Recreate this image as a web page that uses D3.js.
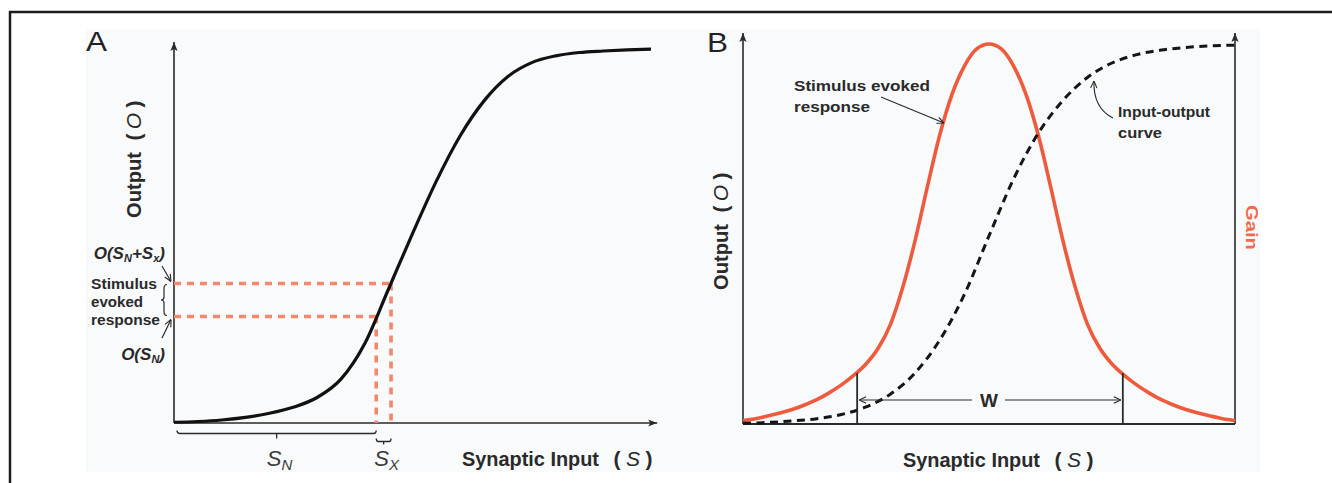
<!DOCTYPE html>
<html>
<head>
<meta charset="utf-8">
<script src="https://cdn.jsdelivr.net/npm/d3@7"></script>
<style>
  html, body { margin: 0; padding: 0; background: #ffffff; }
  svg { display: block; }
</style>
</head>
<body>
<svg id="fig" width="1332" height="483"></svg>
<script>
// ---------- Panel A: input-output (sigmoid) curve ----------
const inputA  = [0, 0.5, 1, 1.5, 2, 2.5, 3, 3.5, 4, 4.5, 5, 5.5, 6, 6.5, 7, 7.5, 8, 8.5, 9, 9.5, 10];
const outputA = [0.002, 0.004, 0.008, 0.015, 0.026, 0.042, 0.068, 0.117, 0.212, 0.358, 0.505,
                 0.645, 0.766, 0.859, 0.924, 0.961, 0.979, 0.988, 0.992, 0.995, 0.997];
// S_N and S_N + S_X on the input axis, and the outputs they produce
const markerInputs  = [4.24, 4.55];
const markerOutputs = [0.284, 0.372];

// ---------- Panel B: gain curve and input-output curve ----------
const inputB = [0, 0.25, 0.5, 0.75, 1, 1.25, 1.5, 1.75, 2, 2.25, 2.5, 2.75, 3, 3.25, 3.5, 3.75, 4, 4.25, 4.5, 4.75,
                5, 5.25, 5.5, 5.75, 6, 6.25, 6.5, 6.75, 7, 7.25, 7.5, 7.75, 8, 8.25, 8.5, 8.75, 9, 9.25, 9.5, 9.75, 10];
const gainB  = [0.009, 0.014, 0.021, 0.029, 0.038, 0.050, 0.064, 0.082, 0.103, 0.128, 0.158, 0.200, 0.263, 0.361,
                0.484, 0.626, 0.761, 0.868, 0.942, 0.987, 1.000,
                0.987, 0.942, 0.868, 0.761, 0.626, 0.484, 0.361, 0.263, 0.200, 0.158, 0.128, 0.103, 0.082, 0.064,
                0.050, 0.038, 0.029, 0.021, 0.014, 0.009];
const ioInputB  = [0, 0.5, 1, 1.5, 2, 2.5, 3, 3.5, 4, 4.5, 5, 5.5, 6, 6.5, 7, 7.5, 8, 8.5, 9, 9.5, 10];
const ioOutputB = [0.002, 0.004, 0.008, 0.014, 0.025, 0.045, 0.079, 0.135, 0.221, 0.341, 0.495,
                   0.645, 0.765, 0.851, 0.912, 0.950, 0.972, 0.984, 0.991, 0.995, 0.997];
// Edges of the width W of the gain curve
const widthEdges  = [2.32, 7.72];
const widthLevels = [0.134, 0.134];

const INK = "#2a2a2a";
const RED = "#ee5b3c";
const RED_SOFT = "#f5876d";
const FONT = "'Liberation Sans Narrow', 'Arial Narrow', 'Liberation Sans', Arial, sans-serif";

const svg = d3.select("#fig");

// Figure frame and panel background
svg.append("rect").attr("x", 86).attr("y", 29).attr("width", 1174).attr("height", 443).attr("fill", "#f9fafc");
svg.append("path").attr("d", "M10,483 V12 H1332").attr("fill", "none").attr("stroke", "#1c1c1c").attr("stroke-width", 2.5);

// Arrowheads
const defs = svg.append("defs");
defs.append("marker").attr("id", "axisHead").attr("markerUnits", "userSpaceOnUse")
  .attr("viewBox", "-10 -5 10 10").attr("refX", 0).attr("refY", 0)
  .attr("markerWidth", 10).attr("markerHeight", 10).attr("orient", "auto")
  .append("path").attr("d", "M0,0 L-9,-3.6 L-7,0 L-9,3.6 Z").attr("fill", INK);
defs.append("marker").attr("id", "thinHead").attr("markerUnits", "userSpaceOnUse")
  .attr("viewBox", "-10 -5 10 10").attr("refX", 0).attr("refY", 0)
  .attr("markerWidth", 10).attr("markerHeight", 10).attr("orient", "auto")
  .append("path").attr("d", "M-7,-3.2 L0,0 L-7,3.2").attr("fill", "none").attr("stroke", INK).attr("stroke-width", 1.1);

function label(g, txt, x, y, opts = {}) {
  const t = g.append("text").attr("x", x).attr("y", y)
    .attr("font-family", FONT).attr("font-weight", opts.weight || "bold")
    .attr("font-size", opts.size || 15).attr("fill", opts.fill || INK)
    .attr("text-anchor", opts.anchor || "start").text(txt);
  if (opts.style) t.attr("font-style", opts.style);
  if (opts.len) t.attr("textLength", opts.len).attr("lengthAdjust", "spacingAndGlyphs");
  if (opts.transform) t.attr("transform", opts.transform);
  return t;
}

// Vertical "Output ( O )" title, reading upwards from (x, y)
function outputTitle(g, x, y) {
  const t = g.append("g").attr("transform", `translate(${x},${y}) rotate(-90)`);
  label(t, "Output", 0, 0, { size: 21, len: 66 });
  label(t, "(", 81, 0, { size: 21, anchor: "middle" });
  label(t, "O", 97, 0, { size: 21, anchor: "middle", weight: "normal", style: "italic" });
  label(t, ")", 114, 0, { size: 21, anchor: "middle" });
}

// Horizontal "Synaptic Input ( S )" title
function inputTitle(g, x, y) {
  label(g, "Synaptic Input", x, y, { size: 21, len: 137 });
  label(g, "(", x + 155, y, { size: 21, anchor: "middle" });
  label(g, "S", x + 171, y, { size: 21, anchor: "middle", weight: "normal", style: "italic" });
  label(g, ")", x + 187, y, { size: 21, anchor: "middle" });
}

// =================== Panel A ===================
const xA = d3.scaleLinear().domain([0, 10]).range([174, 651]);
const yA = d3.scaleLinear().domain([0, 1]).range([423, 48]);
const gA = svg.append("g");

// Axes with arrowheads
gA.append("line").attr("x1", xA(0)).attr("y1", yA(0)).attr("x2", xA(0)).attr("y2", yA(1.016))
  .attr("stroke", INK).attr("stroke-width", 1.6).attr("marker-end", "url(#axisHead)");
gA.append("line").attr("x1", xA(0)).attr("y1", yA(0)).attr("x2", xA(10.13)).attr("y2", yA(0))
  .attr("stroke", INK).attr("stroke-width", 1.6).attr("marker-end", "url(#axisHead)");

// Guides from S_N and S_N + S_X to their outputs
markerInputs.forEach((s, i) => {
  const o = markerOutputs[i];
  gA.append("line").attr("x1", xA(0)).attr("y1", yA(o)).attr("x2", xA(s)).attr("y2", yA(o))
    .attr("stroke", RED_SOFT).attr("stroke-width", 3.6).attr("stroke-dasharray", "7,6");
  gA.append("line").attr("x1", xA(s)).attr("y1", yA(o)).attr("x2", xA(s)).attr("y2", yA(0))
    .attr("stroke", RED_SOFT).attr("stroke-width", 3.6).attr("stroke-dasharray", "7,6");
});

// Sigmoid curve
const lineA = d3.line().x((d, i) => xA(inputA[i])).y(d => yA(d)).curve(d3.curveMonotoneX);
gA.append("path").attr("d", lineA(outputA)).attr("fill", "none")
  .attr("stroke", "#111").attr("stroke-width", 3.2);

// Brackets under the input axis
const bSN = [xA(0) + 3, xA(markerInputs[0])];
const ySN = yA(0) + 10.5;
gA.append("path").attr("fill", "none").attr("stroke", INK).attr("stroke-width", 1.3)
  .attr("d", `M${bSN[0]},${ySN - 3} Q${bSN[0]},${ySN} ${bSN[0] + 3},${ySN} H${bSN[1] - 3} Q${bSN[1]},${ySN} ${bSN[1]},${ySN - 3}
              M${(bSN[0] + bSN[1]) / 2},${ySN} v5`);
const bSX = [xA(markerInputs[0]), xA(markerInputs[1])];
const ySX = yA(0) + 18.5;
gA.append("path").attr("fill", "none").attr("stroke", INK).attr("stroke-width", 1.3)
  .attr("d", `M${bSX[0]},${ySX - 3} Q${bSX[0]},${ySX} ${bSX[0] + 2},${ySX} H${bSX[1] - 2} Q${bSX[1]},${ySX} ${bSX[1]},${ySX - 3}
              M${(bSX[0] + bSX[1]) / 2},${ySX} v3`);

// S_N and S_X labels
function subLabel(g, main, sub, x, y, size) {
  const t = g.append("text").attr("x", x).attr("y", y).attr("font-family", FONT)
    .attr("font-style", "italic").attr("font-size", size).attr("fill", "#3a3a3a").attr("text-anchor", "middle");
  t.append("tspan").text(main);
  t.append("tspan").attr("dy", 4).attr("font-size", size * 0.68).text(sub);
  return t;
}
subLabel(gA, "S", "N", (bSN[0] + bSN[1]) / 2 + 3, 466, 22);
subLabel(gA, "S", "X", (bSX[0] + bSX[1]) / 2 + 3, 466, 22);

// Output-side labels
const oTop = gA.append("text").attr("x", 165).attr("y", 259).attr("font-family", FONT)
  .attr("font-weight", "bold").attr("font-style", "italic").attr("font-size", 17)
  .attr("fill", INK).attr("text-anchor", "end");
oTop.append("tspan").text("O(S");
oTop.append("tspan").attr("dy", 3).attr("font-size", 11).text("N");
oTop.append("tspan").attr("dy", -3).text("+S");
oTop.append("tspan").attr("dy", 3).attr("font-size", 11).text("x");
oTop.append("tspan").attr("dy", -3).text(")");

const oBot = gA.append("text").attr("x", 165).attr("y", 360).attr("font-family", FONT)
  .attr("font-weight", "bold").attr("font-style", "italic").attr("font-size", 17)
  .attr("fill", INK).attr("text-anchor", "end");
oBot.append("tspan").text("O(S");
oBot.append("tspan").attr("dy", 3).attr("font-size", 11).text("N");
oBot.append("tspan").attr("dy", -3).text(")");

label(gA, "Stimulus", 91, 289, { size: 14, len: 66 });
label(gA, "evoked", 91, 307, { size: 14, len: 52 });
label(gA, "response", 91, 325, { size: 14, len: 69 });

// Curly brace spanning the stimulus evoked response
const bTop = yA(markerOutputs[1]) + 1, bBot = yA(markerOutputs[0]) - 1, bMid = (bTop + bBot) / 2;
gA.append("path").attr("fill", "none").attr("stroke", INK).attr("stroke-width", 1.2)
  .attr("d", `M167,${bTop} Q164,${bTop} 164,${bTop + 4} V${bMid - 3} Q164,${bMid} 161,${bMid} Q164,${bMid} 164,${bMid + 3} V${bBot - 4} Q164,${bBot} 167,${bBot}`);

// Pointers to the two output levels
gA.append("line").attr("x1", 162).attr("y1", 266).attr("x2", 171).attr("y2", yA(markerOutputs[1]) - 2)
  .attr("stroke", INK).attr("stroke-width", 1.2).attr("marker-end", "url(#thinHead)");
gA.append("line").attr("x1", 162).attr("y1", 338).attr("x2", 171).attr("y2", yA(markerOutputs[0]) + 3)
  .attr("stroke", INK).attr("stroke-width", 1.2).attr("marker-end", "url(#thinHead)");

// Axis titles
outputTitle(gA, 141, 218);
inputTitle(gA, 462, 466);

label(gA, "A", 86, 51, { size: 28, weight: "normal", fill: "#222", len: 21 });

// =================== Panel B ===================
const xB = d3.scaleLinear().domain([0, 10]).range([743, 1235]);
const yB = d3.scaleLinear().domain([0, 1]).range([424, 44]);
const gB = svg.append("g");

// Left (output) and right (gain) axes, and the input axis
gB.append("line").attr("x1", xB(0)).attr("y1", yB(0)).attr("x2", xB(0)).attr("y2", yB(1.029))
  .attr("stroke", INK).attr("stroke-width", 1.6).attr("marker-end", "url(#axisHead)");
gB.append("line").attr("x1", xB(10)).attr("y1", yB(0)).attr("x2", xB(10)).attr("y2", yB(1.029))
  .attr("stroke", INK).attr("stroke-width", 1.6).attr("marker-end", "url(#axisHead)");
gB.append("line").attr("x1", xB(0)).attr("y1", yB(0)).attr("x2", xB(10)).attr("y2", yB(0))
  .attr("stroke", INK).attr("stroke-width", 1.8);

// Gain (stimulus evoked response) curve
const lineGain = d3.line().x((d, i) => xB(inputB[i])).y(d => yB(d)).curve(d3.curveMonotoneX);
gB.append("path").attr("d", lineGain(gainB)).attr("fill", "none")
  .attr("stroke", RED).attr("stroke-width", 3.6);

// Input-output curve (dashed)
const lineIO = d3.line().x((d, i) => xB(ioInputB[i])).y(d => yB(d)).curve(d3.curveMonotoneX);
gB.append("path").attr("d", lineIO(ioOutputB)).attr("fill", "none")
  .attr("stroke", "#151515").attr("stroke-width", 3).attr("stroke-dasharray", "8,5.5");

// Width W of the gain curve
widthEdges.forEach((s, i) => {
  gB.append("line").attr("x1", xB(s)).attr("y1", yB(0)).attr("x2", xB(s)).attr("y2", yB(widthLevels[i]))
    .attr("stroke", INK).attr("stroke-width", 1.8);
});
const wY = 400, wMid = (xB(widthEdges[0]) + xB(widthEdges[1])) / 2;
gB.append("line").attr("x1", wMid - 18).attr("y1", wY).attr("x2", xB(widthEdges[0]) + 2).attr("y2", wY)
  .attr("stroke", INK).attr("stroke-width", 1.2).attr("marker-end", "url(#thinHead)");
gB.append("line").attr("x1", wMid + 15).attr("y1", wY).attr("x2", xB(widthEdges[1]) - 2).attr("y2", wY)
  .attr("stroke", INK).attr("stroke-width", 1.2).attr("marker-end", "url(#thinHead)");
label(gB, "W", wMid - 1, wY + 7, { size: 19, anchor: "middle" });

// Annotations
label(gB, "Stimulus evoked", 794, 91, { size: 15.5, len: 136 });
label(gB, "response", 794, 112, { size: 15.5, len: 76 });
gB.append("line").attr("x1", 881).attr("y1", 97).attr("x2", 944).attr("y2", 123)
  .attr("stroke", INK).attr("stroke-width", 1.1).attr("marker-end", "url(#thinHead)");

label(gB, "Input-output", 1118, 117, { size: 15.5, len: 92 });
label(gB, "curve", 1118, 138, { size: 15.5, len: 44 });
gB.append("path").attr("d", "M1113,118 Q1093,108 1094,81").attr("fill", "none")
  .attr("stroke", INK).attr("stroke-width", 1.1).attr("marker-end", "url(#thinHead)");

// Axis titles
outputTitle(gB, 728, 290);
label(gB, "Gain", 0, 0, { size: 17, fill: "#f26a4c", len: 45, transform: "translate(1246,205) rotate(90)" });
inputTitle(gB, 903, 467);

label(gB, "B", 707, 52, { size: 28, weight: "normal", fill: "#222", len: 21 });
</script>
</body>
</html>
